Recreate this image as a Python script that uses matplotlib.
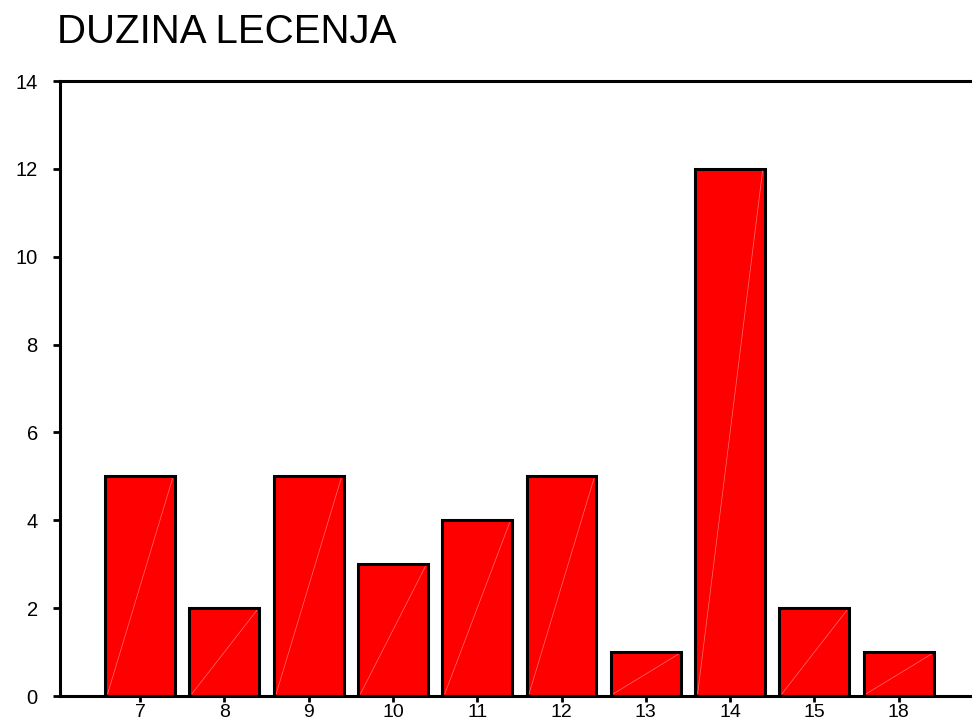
import matplotlib
matplotlib.use('Agg')
import matplotlib.pyplot as plt
import numpy as np

plt.rcParams['font.family'] = ['Liberation Sans', 'DejaVu Sans']

# duzina lecenja (days) and counts
categories = ['7', '8', '9', '10', '11', '12', '13', '14', '15', '18']
counts = [5, 2, 5, 3, 4, 5, 1, 12, 2, 1]
yticks = [0, 2, 4, 6, 8, 10, 12, 14]

fig = plt.figure(figsize=(9.72, 7.24), dpi=100)
ax = fig.add_axes([60 / 972, 28 / 724, 1 - 60 / 972, (696 - 81) / 724])

x = np.arange(len(categories))
width = 0.83
ax.bar(x, counts, width=width, color='#ff0000', edgecolor='black', linewidth=2.2, zorder=2)

# faint diagonal seams inside the bars
for xi, c in zip(x, counts):
    ax.plot([xi - width / 2 + 0.03, xi + width / 2 - 0.03], [0.05, c - 0.05],
            color='#ff7070', linewidth=0.5, zorder=3)

ax.set_xlim(-0.95, 9.87)
ax.set_ylim(0, 14)
ax.set_xticks(x)
ax.set_xticklabels(categories)
ax.set_yticks(yticks)

for side in ['top', 'bottom', 'left']:
    ax.spines[side].set_linewidth(2.2)
ax.spines['right'].set_visible(False)
ax.tick_params(axis='y', length=5, width=2, pad=11, labelsize=14.5)
ax.tick_params(axis='x', length=4, width=2, pad=1.5, labelsize=14)

fig.text(57 / 972, 1 - 43 / 724, 'DUZINA LECENJA', fontsize=29, ha='left', va='baseline')

fig.savefig('out.png', dpi=100)
